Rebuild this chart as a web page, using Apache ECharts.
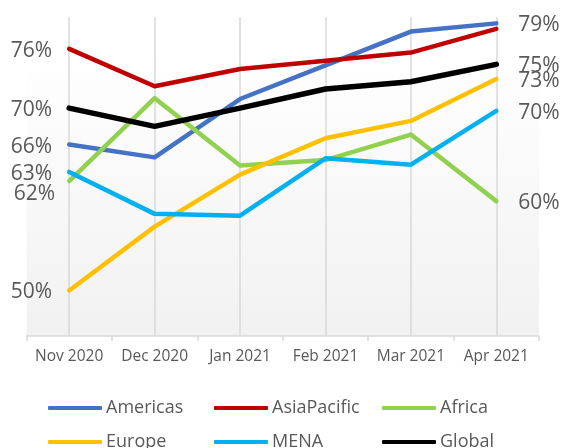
<!DOCTYPE html>
<html>
<head>
<meta charset="utf-8">
<script src="https://cdn.jsdelivr.net/npm/echarts@6/dist/echarts.min.js"></script>
<style>
  html, body { margin: 0; padding: 0; background: #fff; }
  #chart { width: 561px; height: 448px; }
</style>
</head>
<body>
<div id="chart"></div>
<script>
const months = ['Nov 2020', 'Dec 2020', 'Jan 2021', 'Feb 2021', 'Mar 2021', 'Apr 2021'];

const americas = [66.0, 64.6, 71.0, 74.7, 78.4, 79.3];
const asiaPacific = [76.5, 72.4, 74.3, 75.2, 76.1, 78.7];
const africa = [62.0, 71.1, 63.7, 64.3, 67.1, 59.8];
const europe = [50.0, 57.0, 62.7, 66.7, 68.6, 73.2];
const mena = [63.0, 58.4, 58.2, 64.5, 63.8, 69.7];
const global = [70.0, 68.0, 70.0, 72.1, 72.9, 74.8];

// labels printed at the start / end of each line
const startLabels = ['66%', '76%', '62%', '50%', '63%', '70%'];
const endLabels = ['79%', '', '60%', '73%', '70%', '75%'];

const seriesNames = ['Americas', 'AsiaPacific', 'Africa', 'Europe', 'MENA', 'Global'];
const seriesValues = [americas, asiaPacific, africa, europe, mena, global];
const colors = ['#4472C4', '#C00000', '#92D050', '#FFC000', '#00B0F0', '#000000'];

const labelFont = {
  color: '#595959',
  fontSize: 21,
  fontFamily: 'Open Sans',
};

function buildData(values, idx) {
  const last = values.length - 1;
  return values.map((v, i) => {
    if (i === 0) {
      return {
        value: v,
        label: {
          show: true,
          position: 'left',
          distance: 17,
          formatter: startLabels[idx],
          ...labelFont,
        },
      };
    }
    if (i === last && endLabels[idx]) {
      return {
        value: v,
        label: {
          show: true,
          position: 'right',
          distance: 22,
          formatter: endLabels[idx],
          ...labelFont,
        },
      };
    }
    return v;
  });
}

// legend laid out as a 3 x 2 grid
const legendCols = [48, 214, 382];
const legendRows = [399, 433];
const legends = seriesNames.map((name, i) => ({
  data: [name],
  left: legendCols[i % 3],
  top: legendRows[Math.floor(i / 3)],
  padding: 0,
  icon: 'roundRect',
  itemWidth: 54,
  itemHeight: 4,
  itemGap: 0,
  selectedMode: false,
  textStyle: {
    color: '#595959',
    fontSize: 18,
    fontFamily: 'Open Sans',
    padding: [0, 0, 0, -1],
  },
}));

const chart = echarts.init(document.getElementById('chart'));

chart.setOption({
  animation: false,
  color: colors,
  legend: legends,
  grid: {
    show: true,
    left: 26.5,
    right: 22,
    top: 17,
    bottom: 112,
    borderWidth: 0,
    backgroundColor: new echarts.graphic.LinearGradient(0, 0, 0, 1, [
      { offset: 0, color: '#ffffff' },
      { offset: 0.12, color: '#ffffff' },
      { offset: 1, color: '#f1f1f1' },
    ]),
  },
  xAxis: {
    type: 'category',
    boundaryGap: true,
    data: months,
    axisLine: { lineStyle: { color: '#d9d9d9', width: 1.5 } },
    axisTick: { show: true, interval: 0, length: 5, lineStyle: { color: '#d9d9d9', width: 1.5 } },
    axisLabel: {
      interval: 0,
      color: '#595959',
      fontSize: 15.5,
      fontFamily: 'Open Sans',
      margin: 13,
    },
    splitLine: {
      show: true,
      interval: 0,
      alignWithLabel: true,
      lineStyle: { color: '#d9d9d9', width: 1.5 },
    },
  },
  yAxis: {
    type: 'value',
    min: 45,
    max: 80,
    show: false,
  },
  series: seriesNames.map((name, i) => ({
    name,
    type: 'line',
    data: buildData(seriesValues[i], i),
    showSymbol: true,
    symbol: 'circle',
    symbolSize: 0,
    lineStyle: {
      width: name === 'Global' ? 5.5 : 4.5,
      color: colors[i],
      cap: 'round',
      join: 'round',
    },
    labelLayout: (params) => {
      // nudge the Africa start label below the MENA one
      if (name === 'Africa' && params.dataIndex === 0) {
        return { dx: 3, dy: 13, hideOverlap: false };
      }
      return { dy: 2, hideOverlap: false };
    },
  })),
});
</script>
</body>
</html>
